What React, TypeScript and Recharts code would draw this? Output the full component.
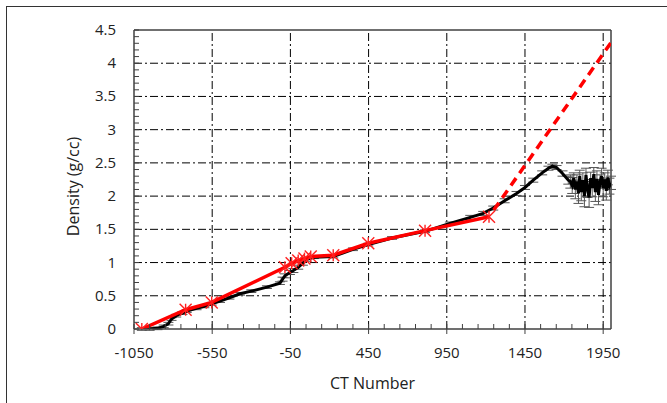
import { ComposedChart, Line, XAxis, YAxis, ReferenceLine, ErrorBar } from "recharts";

// measured density vs CT number (black trace with error bars)
const measuredCT = [
    -1000, -950, -900, -860, -830, -810, -780, -740, -713, -650, -600, -553, -500, -440, -372, -300, -200, -117,
    -100, -85, -53, -31, 0, 30, 54, 100, 224, 350, 448, 600, 811, 970, 1100, 1183, 1247, 1320, 1396, 1450, 1503,
    1560, 1600, 1625, 1652, 1690, 1727, 1740, 1752, 1762, 1772, 1782, 1792, 1800, 1810, 1820, 1830, 1840, 1850, 1860,
    1870, 1880, 1890, 1900, 1910, 1920, 1930, 1940, 1950, 1960, 1970, 1980, 1990, 2000,
];
const measuredDensity = [
    0, 0, 0.01, 0.04, 0.08, 0.15, 0.2, 0.24, 0.27, 0.31, 0.34, 0.38, 0.42, 0.47, 0.53, 0.57, 0.63, 0.69,
    0.75, 0.8, 0.85, 0.88, 0.93, 0.99, 1.05, 1.08, 1.09, 1.2, 1.27, 1.37, 1.47, 1.59, 1.68, 1.74, 1.82, 1.93,
    2.04, 2.13, 2.24, 2.35, 2.42, 2.45, 2.43, 2.34, 2.24, 2.22, 2.16, 2.27, 2.1, 2.22, 2.04, 2.3, 2.06, 2.24, 2.0,
    2.32, 2.1, 1.98, 2.27, 2.12, 2.33, 2.06, 2.26, 2.02, 2.22, 2.3, 2.12, 2.25, 2.08, 2.28, 2.15, 2.2,
];
const measuredError = [
    0.02, 0.02, 0.02, 0.02, 0.02, 0.02, 0.02, 0.02, 0.02, 0.02, 0.02, 0.02, 0.02, 0.02, 0.02, 0.02, 0.02, 0.02,
    0.03, 0.03, 0.03, 0.03, 0.03, 0.03, 0.03, 0.02, 0.02, 0.02, 0.02, 0.02, 0.02, 0.02, 0.03, 0.03, 0.03, 0.03,
    0.03, 0.03, 0.03, 0.03, 0.03, 0.03, 0.03, 0.04, 0.06, 0.1, 0.12, 0.08, 0.14, 0.1, 0.15, 0.09, 0.13, 0.11, 0.16,
    0.1, 0.12, 0.15, 0.09, 0.13, 0.1, 0.14, 0.12, 0.15, 0.1, 0.12, 0.13, 0.1, 0.14, 0.11, 0.12, 0.1,
];

// calibration fit (red, asterisk markers)
const fitCT = [-1000, -720, -553, -85, -42, 0, 40, 80, 224, 448, 811, 1220];
const fitDensity = [0, 0.29, 0.4, 0.93, 0.99, 1.03, 1.06, 1.09, 1.11, 1.29, 1.48, 1.69];

// extrapolation (red dashed)
const extrapCT = [1250, 2000];
const extrapDensity = [1.79, 4.31];

const xMajor = [-1050, -550, -50, 450, 950, 1450, 1950];
const yMajor = [0, 0.5, 1, 1.5, 2, 2.5, 3, 3.5, 4, 4.5];
const xTicks = Array.from({ length: 31 }, (_, i) => -1050 + i * 100);
const yTicks = Array.from({ length: 46 }, (_, i) => i / 10);

const measured = measuredCT.map((ct, i) => ({ ct, d: measuredDensity[i], err: measuredError[i] }));
const fit = fitCT.map((ct, i) => ({ ct, d: fitDensity[i] }));
const extrap = extrapCT.map((ct, i) => ({ ct, d: extrapDensity[i] }));

const FONT = "'Open Sans', sans-serif";
const AXIS = "#404040";
const GRID_DASH = "8 3 2 3";

const XTick = (props: any) => {
    const { x, y, payload } = props;
    const major = xMajor.includes(payload.value);
    return (
        <g>
            <line x1={x} x2={x} y1={y - 5} y2={major ? y + 5 : y} stroke={AXIS} />
            {major && (
                <text x={x} y={y + 29} textAnchor="middle" fontFamily={FONT} fontSize={15} fill="#222">
                    {payload.value}
                </text>
            )}
        </g>
    );
};

const YTick = (props: any) => {
    const { x, y, payload } = props;
    const major = Math.abs(payload.value * 2 - Math.round(payload.value * 2)) < 1e-6;
    return (
        <g>
            <line x1={x} x2={x + 5} y1={y} y2={y} stroke={AXIS} />
            {major && (
                <text x={x - 18} y={y + 5} textAnchor="end" fontFamily={FONT} fontSize={15} fill="#222">
                    {String(Math.round(payload.value * 10) / 10)}
                </text>
            )}
        </g>
    );
};

const Asterisk = (props: any) => {
    const { cx, cy, index } = props;
    if (cx == null || cy == null) return <g key={index} />;
    const r = 6;
    return (
        <g key={index} stroke="#ff2020" strokeWidth={1.4}>
            <line x1={cx} y1={cy - r} x2={cx} y2={cy + r} />
            <line x1={cx - r} y1={cy - r} x2={cx + r} y2={cy + r} />
            <line x1={cx - r} y1={cy + r} x2={cx + r} y2={cy - r} />
        </g>
    );
};

export default function App() {
    return (
        <div style={{ position: "absolute", left: 0, top: 0, width: 667, height: 403, overflow: "hidden", background: "#fff" }}>
            <div style={{ position: "absolute", left: 6, top: 6, width: 720, height: 500, border: "1px solid #333" }} />
            <div style={{ position: "absolute", left: 0, top: 0 }}>
                <ComposedChart width={667} height={403} margin={{ top: 30, right: 56, bottom: 0, left: 0 }}>
                    <XAxis
                        dataKey="ct"
                        type="number"
                        domain={[-1050, 2000]}
                        ticks={xTicks}
                        interval={0}
                        allowDataOverflow
                        height={74}
                        tickSize={0}
                        tickMargin={0}
                        tickLine={false}
                        axisLine={{ stroke: AXIS, strokeWidth: 1.5 }}
                        tick={<XTick />}
                        label={{
                            value: "CT Number",
                            position: "insideBottom",
                            offset: 14,
                            style: { fontFamily: FONT, fontSize: 16, fill: "#222" },
                        }}
                    />
                    <YAxis
                        dataKey="d"
                        type="number"
                        domain={[0, 4.5]}
                        ticks={yTicks}
                        interval={0}
                        allowDataOverflow
                        width={134}
                        tickSize={0}
                        tickMargin={0}
                        tickLine={false}
                        axisLine={{ stroke: AXIS, strokeWidth: 1.5 }}
                        tick={<YTick />}
                        label={{
                            content: (p: any) => {
                                const vb = p.viewBox;
                                const cy = vb.y + vb.height / 2 + 7;
                                return (
                                    <text
                                        x={79}
                                        y={cy}
                                        transform={`rotate(-90 79 ${cy})`}
                                        textAnchor="middle"
                                        fontFamily={FONT}
                                        fontSize={16}
                                        fill="#222"
                                    >
                                        Density (g/cc)
                                    </text>
                                );
                            },
                        }}
                    />

                    {xMajor.slice(1).map((v) => (
                        <ReferenceLine key={"gx" + v} x={v} stroke="#000" strokeDasharray={GRID_DASH} />
                    ))}
                    {yMajor.slice(1, -1).map((v) => (
                        <ReferenceLine key={"gy" + v} y={v} stroke="#000" strokeDasharray={GRID_DASH} />
                    ))}
                    <ReferenceLine y={4.5} stroke={AXIS} strokeWidth={1.5} />
                    <ReferenceLine x={2000} stroke={AXIS} strokeWidth={1.5} />

                    <Line
                        data={measured}
                        dataKey="d"
                        type="linear"
                        stroke="#000"
                        strokeWidth={3}
                        dot={false}
                        isAnimationActive={false}
                    >
                        <ErrorBar dataKey="err" direction="y" width={5} stroke="#555" strokeWidth={1} />
                    </Line>
                    <Line
                        data={fit}
                        dataKey="d"
                        type="linear"
                        stroke="#ff0000"
                        strokeWidth={3.5}
                        dot={<Asterisk />}
                        isAnimationActive={false}
                    />
                    <Line
                        data={extrap}
                        dataKey="d"
                        type="linear"
                        stroke="#ff0000"
                        strokeWidth={3.5}
                        strokeDasharray="9 6"
                        dot={false}
                        isAnimationActive={false}
                    />
                </ComposedChart>
            </div>
        </div>
    );
}
